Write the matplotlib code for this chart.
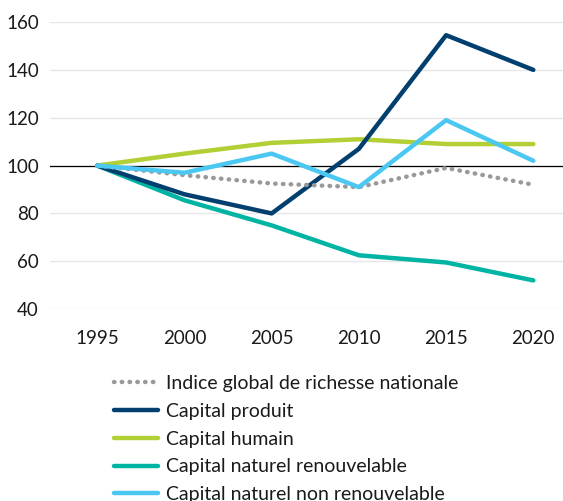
import matplotlib
matplotlib.use("Agg")
import matplotlib.pyplot as plt
from matplotlib.lines import Line2D

plt.rcParams['font.family'] = ['Lato', 'DejaVu Sans']

years = [1995, 2000, 2005, 2010, 2015, 2020]
indice = [100, 96, 92.5, 91, 99, 92]
produit = [100, 88, 80, 107, 154.5, 140]
humain = [100, 105, 109.5, 111, 109, 109]
renouvelable = [100, 85.5, 75, 62.5, 59.5, 52]
non_renouvelable = [100, 97, 105, 91, 119, 102]

labels = ["Indice global de richesse nationale", "Capital produit", "Capital humain",
          "Capital naturel renouvelable", "Capital naturel non renouvelable"]
colors = ["#999999", "#003f6e", "#b2cf35", "#00b4a4", "#4ac8f2"]
yticks = [40, 60, 80, 100, 120, 140, 160]
dots = (0, (0.1, 1.65))

fig = plt.figure(figsize=(5.63, 5.01), dpi=100)
ax = fig.add_axes([0.089, 0.383, 0.911, 0.573])
ax.set_xlim(1992.3, 2021.7)
ax.set_ylim(40, 160)
for y in yticks:
    ax.axhline(y, color="#e6e6e6", lw=1, zorder=0)
ax.axhline(100, color="black", lw=0.9, zorder=1)

ax.plot(years, renouvelable, color=colors[3], lw=3.2, solid_capstyle='round', zorder=2)
ax.plot(years, humain, color=colors[2], lw=3.2, solid_capstyle='round', zorder=3)
ax.plot(years, produit, color=colors[1], lw=3.2, solid_capstyle='round', zorder=4)
ax.plot(years, indice, color=colors[0], lw=3.2, linestyle=dots, dash_capstyle='round', zorder=5)
ax.plot(years, non_renouvelable, color=colors[4], lw=3.2, solid_capstyle='round', zorder=6)

ax.set_yticks(yticks)
ax.set_xticks(years)
ax.tick_params(length=0, labelsize=13.5, colors="#1a1a1a", pad=8)
ax.tick_params(axis='x', pad=15)
for s in ax.spines.values():
    s.set_visible(False)

handles = [Line2D([0], [0], color=colors[0], lw=3.2, linestyle=dots, dash_capstyle='round')]
handles += [Line2D([0], [0], color=c, lw=3.2, solid_capstyle='round') for c in colors[1:]]
leg = fig.legend(handles, labels, loc='upper left', bbox_to_anchor=(0.202, 0.252),
                 frameon=False, fontsize=14, handlelength=2.3, handletextpad=0.4,
                 labelspacing=0.56, borderaxespad=0, borderpad=0)
for t in leg.get_texts():
    t.set_color("#1a1a1a")

fig.savefig("out.png", dpi=100)
